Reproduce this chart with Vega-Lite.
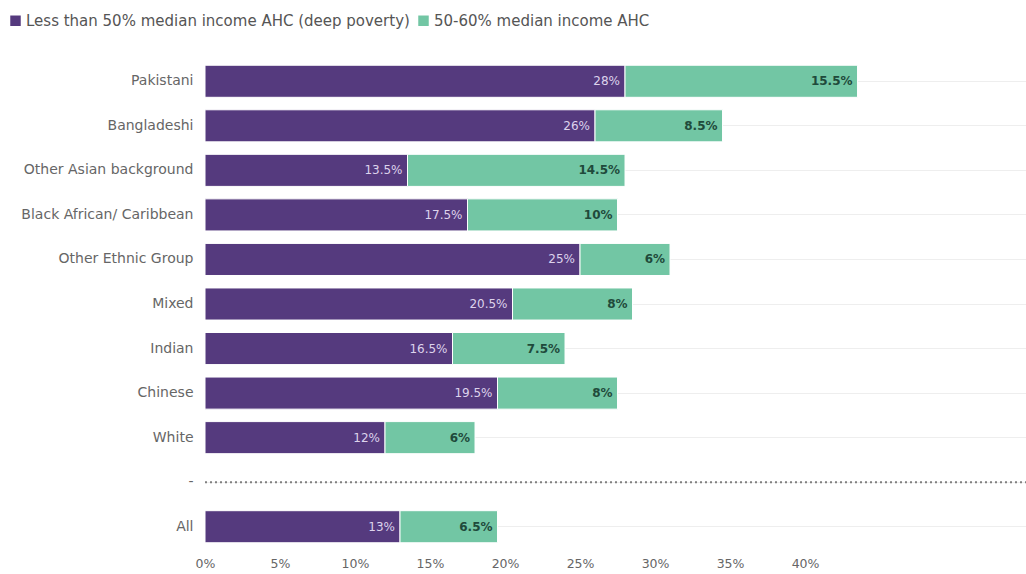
{
  "$schema": "https://vega.github.io/schema/vega-lite/v6.json",
  "autosize": "none",
  "width": 821,
  "height": 490,
  "padding": {"left": 205, "top": 59, "right": 0, "bottom": 25},
  "background": "white",
  "config": {
    "view": {"stroke": null},
    "font": "DejaVu Sans",
    "axis": {"labelFont": "DejaVu Sans", "labelColor": "#666666"},
    "legend": {"labelFont": "DejaVu Sans"}
  },
  "data": {
    "values": [
      {"group": "Pakistani", "segment": "Less than 50% median income AHC (deep poverty)", "order": 1, "value": 0.28},
      {"group": "Pakistani", "segment": "50-60% median income AHC", "order": 2, "value": 0.155},
      {"group": "Bangladeshi", "segment": "Less than 50% median income AHC (deep poverty)", "order": 1, "value": 0.26},
      {"group": "Bangladeshi", "segment": "50-60% median income AHC", "order": 2, "value": 0.085},
      {"group": "Other Asian background", "segment": "Less than 50% median income AHC (deep poverty)", "order": 1, "value": 0.135},
      {"group": "Other Asian background", "segment": "50-60% median income AHC", "order": 2, "value": 0.145},
      {"group": "Black African/ Caribbean", "segment": "Less than 50% median income AHC (deep poverty)", "order": 1, "value": 0.175},
      {"group": "Black African/ Caribbean", "segment": "50-60% median income AHC", "order": 2, "value": 0.10},
      {"group": "Other Ethnic Group", "segment": "Less than 50% median income AHC (deep poverty)", "order": 1, "value": 0.25},
      {"group": "Other Ethnic Group", "segment": "50-60% median income AHC", "order": 2, "value": 0.06},
      {"group": "Mixed", "segment": "Less than 50% median income AHC (deep poverty)", "order": 1, "value": 0.205},
      {"group": "Mixed", "segment": "50-60% median income AHC", "order": 2, "value": 0.08},
      {"group": "Indian", "segment": "Less than 50% median income AHC (deep poverty)", "order": 1, "value": 0.165},
      {"group": "Indian", "segment": "50-60% median income AHC", "order": 2, "value": 0.075},
      {"group": "Chinese", "segment": "Less than 50% median income AHC (deep poverty)", "order": 1, "value": 0.195},
      {"group": "Chinese", "segment": "50-60% median income AHC", "order": 2, "value": 0.08},
      {"group": "White", "segment": "Less than 50% median income AHC (deep poverty)", "order": 1, "value": 0.12},
      {"group": "White", "segment": "50-60% median income AHC", "order": 2, "value": 0.06},
      {"group": "All", "segment": "Less than 50% median income AHC (deep poverty)", "order": 1, "value": 0.13},
      {"group": "All", "segment": "50-60% median income AHC", "order": 2, "value": 0.065}
    ]
  },
  "encoding": {
    "y": {
      "field": "group",
      "type": "nominal",
      "title": null,
      "scale": {
        "domain": ["Pakistani", "Bangladeshi", "Other Asian background", "Black African/ Caribbean", "Other Ethnic Group", "Mixed", "Indian", "Chinese", "White", "-", "All"],
        "paddingInner": 0.28,
        "paddingOuter": 0.14
      },
      "axis": {
        "ticks": false,
        "domain": false,
        "labelPadding": 12,
        "labelFontSize": 14,
        "labelLimit": 250,
        "grid": true,
        "gridColor": "#eeeeee",
        "gridWidth": 1
      }
    }
  },
  "layer": [
    {
      "mark": {"type": "bar", "stroke": "white", "strokeWidth": 1},
      "encoding": {
        "x": {
          "field": "value",
          "type": "quantitative",
          "stack": "zero",
          "title": null,
          "scale": {"domain": [0, 0.5473], "nice": false, "zero": true},
          "axis": {
            "values": [0, 0.05, 0.1, 0.15, 0.2, 0.25, 0.3, 0.35, 0.4],
            "format": "~%",
            "grid": false,
            "ticks": false,
            "domain": false,
            "labelFlush": false,
            "labelFontSize": 12.5,
            "labelPadding": 8
          }
        },
        "color": {
          "field": "segment",
          "type": "nominal",
          "title": null,
          "scale": {
            "domain": ["Less than 50% median income AHC (deep poverty)", "50-60% median income AHC"],
            "range": ["#553a7e", "#72c6a4"]
          },
          "legend": {
            "orient": "none",
            "legendX": -197,
            "legendY": -46,
            "direction": "horizontal",
            "symbolType": "square",
            "symbolSize": 110,
            "symbolStrokeWidth": 0,
            "labelFontSize": 15,
            "labelColor": "#555555",
            "labelLimit": 500,
            "labelOffset": 3,
            "columnPadding": 6
          }
        },
        "order": {"field": "order", "type": "quantitative"}
      }
    },
    {
      "transform": [{"filter": "datum.order == 1"}],
      "mark": {"type": "text", "align": "right", "baseline": "middle", "dx": -5, "fontSize": 12, "color": "#ddd3ec"},
      "encoding": {
        "x": {"field": "value", "type": "quantitative", "stack": "zero"},
        "text": {"field": "value", "type": "quantitative", "format": ".1~%"}
      }
    },
    {
      "transform": [
        {"joinaggregate": [{"op": "sum", "field": "value", "as": "total"}], "groupby": ["group"]},
        {"filter": "datum.order == 2"}
      ],
      "mark": {"type": "text", "align": "right", "baseline": "middle", "dx": -5, "fontSize": 12, "fontWeight": "bold", "color": "#1f4a3b"},
      "encoding": {
        "x": {"field": "total", "type": "quantitative"},
        "text": {"field": "value", "type": "quantitative", "format": ".1~%"}
      }
    },
    {
      "data": {"values": [{"group": "-", "start": 0, "end": 0.5473}]},
      "mark": {"type": "rule", "strokeDash": [2, 3], "strokeWidth": 2, "color": "#808080"},
      "encoding": {
        "x": {"field": "start", "type": "quantitative"},
        "x2": {"field": "end"}
      }
    }
  ]
}
